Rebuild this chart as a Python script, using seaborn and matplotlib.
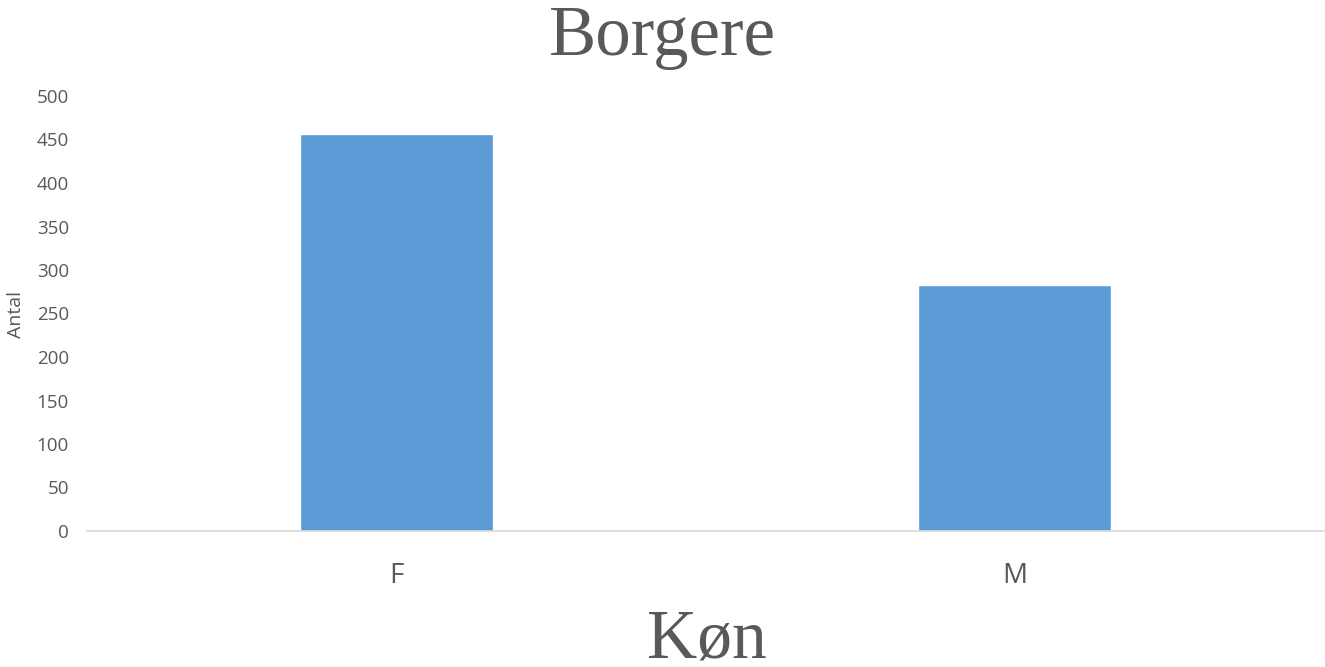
import pandas as pd
import seaborn as sns
import matplotlib.pyplot as plt

categories = ['F', 'M']
values = [456, 283]

sns.set_style('white')
plt.rcParams['font.family'] = ['Open Sans', 'DejaVu Sans']

df = pd.DataFrame({'Køn': categories, 'Antal': values})
grey = '#595959'
serif = ['Liberation Serif', 'DejaVu Serif']

fig = plt.figure(figsize=(13.25, 6.67), dpi=100)
ax = fig.add_axes([87 / 1325, 1 - 531 / 667, 1237 / 1325, 435 / 667])
sns.barplot(x='Køn', y='Antal', data=df, color='#5B9BD5', saturation=1, width=0.312, ax=ax)

ax.set_xlim(-0.5, 1.5)
ax.set_ylim(0, 500)
ax.set_yticks(range(0, 501, 50))
for s in ['top', 'right', 'left']:
    ax.spines[s].set_visible(False)
ax.spines['bottom'].set_color('#d9d9d9')
ax.spines['bottom'].set_linewidth(1.2)
ax.tick_params(axis='both', length=0, colors=grey)
ax.tick_params(axis='y', labelsize=13.5, pad=13)
ax.tick_params(axis='x', labelsize=20, pad=22)
ax.set_xlabel('')
ax.set_ylabel('')

fig.text(16 / 1325, 1 - 314 / 667, 'Antal', rotation=90, ha='center', va='center',
         fontsize=14, color=grey)
fig.text(0.5, 1 - 55 / 667, 'Borgere', ha='center', va='baseline',
         fontsize=51, color=grey, family=serif)
fig.text(0.5 + 44 / 1325, 1 - 658 / 667, 'Køn', ha='center', va='baseline',
         fontsize=50, color=grey, family=serif)

plt.savefig('out.png')
plt.close()
